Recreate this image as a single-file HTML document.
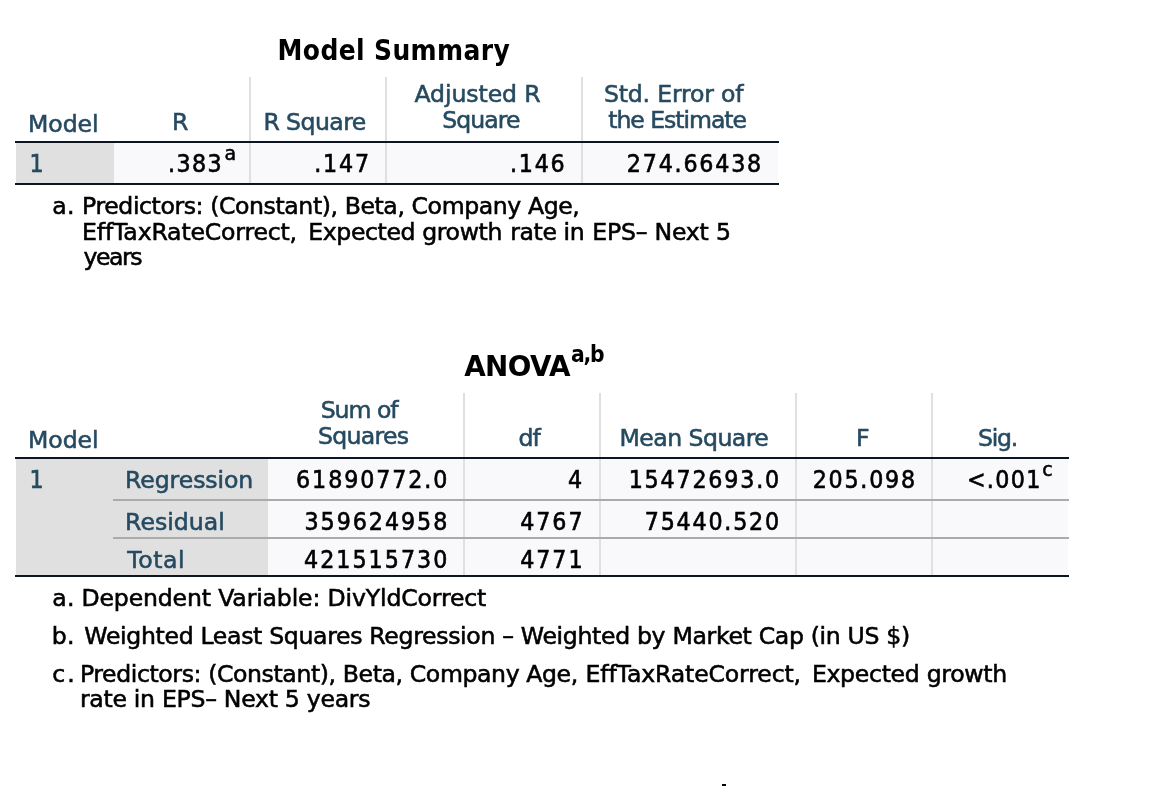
<!DOCTYPE html>
<html lang="en">
<head>
<meta charset="utf-8">
<title>SPSS Output</title>
<style>
html,body{margin:0;padding:0;background:#fff;}
body{width:1162px;height:786px;position:relative;overflow:hidden;font-family:"DejaVu Sans","Liberation Sans",sans-serif;}
.t{position:absolute;white-space:nowrap;line-height:30px;font-size:23.6px;color:#000;font-weight:400;-webkit-text-stroke:0.55px currentColor;}
.r{font-family:"DejaVu Sans","Liberation Sans",sans-serif;}
.c{font-family:"DejaVu Sans Condensed","DejaVu Sans","Liberation Sans",sans-serif;font-stretch:condensed;-webkit-text-stroke-width:0.6px;}
.b{font-weight:700;-webkit-text-stroke:0;}
.ln{left:0;width:1162px;height:30px;}
.ln span{position:absolute;top:0;white-space:pre;}
.bl{color:#264a60;}
.box{position:absolute;}
.dark{background:#0b1622;}
.lab{background:#e0e0e0;}
.dat{background:#f9f9fb;}
.vl{background:#e0e0e0;width:2px;}
.hl{background:#ababab;height:2px;}
</style>
</head>
<body>
<!-- Model Summary table -->
<div class="box lab" style="left:16px;top:143px;width:98px;height:40px"></div>
<div class="box dat" style="left:114px;top:143px;width:664px;height:40px"></div>
<div class="box vl" style="left:249px;top:77px;height:106px"></div>
<div class="box vl" style="left:385px;top:77px;height:106px"></div>
<div class="box vl" style="left:581px;top:77px;height:106px"></div>
<div class="box dark" style="left:15px;top:141px;width:764px;height:2px"></div>
<div class="box dark" style="left:15px;top:183px;width:764px;height:2px"></div>
<!-- ANOVA table -->
<div class="box lab" style="left:16px;top:459px;width:252px;height:116px"></div>
<div class="box dat" style="left:268px;top:459px;width:800px;height:116px"></div>
<div class="box vl" style="left:463px;top:393px;height:182px"></div>
<div class="box vl" style="left:599px;top:393px;height:182px"></div>
<div class="box vl" style="left:795px;top:393px;height:182px"></div>
<div class="box vl" style="left:931px;top:393px;height:182px"></div>
<div class="box hl" style="left:113px;top:499px;width:956px"></div>
<div class="box hl" style="left:113px;top:537px;width:956px"></div>
<div class="box dark" style="left:15px;top:457px;width:1054px;height:2px"></div>
<div class="box dark" style="left:15px;top:575px;width:1054px;height:2px"></div>
<div class="box" style="left:722px;top:784px;width:3.5px;height:2px;background:#000"></div>
<section aria-label="Model Summary">
<div class="t c b" style="left:277.6px;top:36px;font-size:27.8px;letter-spacing:0.37px">Model Summary</div>
<div class="t r bl" style="left:28.07px;top:108.5px;letter-spacing:-0.083px">Model</div>
<div class="t r bl" style="left:172.08px;top:107px">R</div>
<div class="t r bl" style="left:263.38px;top:106.5px;letter-spacing:-0.584px">R Square</div>
<div class="t r bl" style="left:414.47px;top:78.5px;letter-spacing:-0.099px">Adjusted R</div>
<div class="t r bl" style="left:442.27px;top:104.5px;letter-spacing:-0.959px">Square</div>
<div class="t r bl" style="left:603.98px;top:78.5px;letter-spacing:-0.191px">Std. Error of</div>
<div class="t r bl" style="left:608.27px;top:104.5px;letter-spacing:-1.061px">the Estimate</div>
<div class="t c bl" style="left:29.6px;top:149px;font-size:24.7px">1</div>
<div class="t c" style="left:167.9px;top:149px;font-size:24.7px;letter-spacing:1.464px">.383</div>
<div class="t r" style="left:224.38px;top:138px;font-size:19px">a</div>
<div class="t c" style="left:314.2px;top:149px;font-size:24.7px;letter-spacing:1.798px">.147</div>
<div class="t c" style="left:510.0px;top:149px;font-size:24.7px;letter-spacing:1.731px">.146</div>
<div class="t c" style="left:626.8px;top:149px;font-size:24.7px;letter-spacing:1.794px">274.66438</div>
<div class="t r" style="left:52.27px;top:190.7px;letter-spacing:0.392px">a.</div>
<div class="t r ln" style="top:190.7px"><span style="left:82.08px;letter-spacing:-0.418px">Predictors: (Constant), Beta, Company Age,</span></div>
<div class="t r ln" style="top:216.5px"><span style="left:82.08px;letter-spacing:-0.185px">EffTaxRateCorrect, </span><span style="left:308.27px;letter-spacing:-0.398px">Expected growth </span><span style="left:510.27px;letter-spacing:-0.422px">rate in </span><span style="left:592.27px;letter-spacing:-0.222px">EPS– Next 5</span></div>
<div class="t r" style="left:83.58px;top:242.2px;letter-spacing:-1.497px">years</div>
</section>
<section aria-label="ANOVA">
<div class="t r b" style="left:464.2px;top:352px;font-size:27.8px;letter-spacing:-0.646px">ANOVA</div>
<div class="t c b" style="left:571.0px;top:338.5px;font-size:22.6px;letter-spacing:-1.218px">a,b</div>
<div class="t r bl" style="left:28.07px;top:424.5px;letter-spacing:-0.083px">Model</div>
<div class="t r bl" style="left:320.67px;top:394.6px;letter-spacing:-1.04px">Sum of</div>
<div class="t r bl" style="left:317.97px;top:420.6px;letter-spacing:-0.719px">Squares</div>
<div class="t r bl" style="left:518.38px;top:422.5px;letter-spacing:-0.827px">df</div>
<div class="t r bl" style="left:619.57px;top:422.5px;letter-spacing:-0.558px">Mean Square</div>
<div class="t r bl" style="left:855.98px;top:422.5px">F</div>
<div class="t r bl" style="left:977.98px;top:422.5px;letter-spacing:-1.253px">Sig.</div>
<div class="t c bl" style="left:29.6px;top:465px;font-size:24.7px">1</div>
<div class="t r bl" style="left:125.08px;top:465px;letter-spacing:-0.094px">Regression</div>
<div class="t r bl" style="left:125.08px;top:506.7px;letter-spacing:0.024px">Residual</div>
<div class="t r bl" style="left:127.18px;top:544.7px;letter-spacing:0.601px">Total</div>
<div class="t c" style="left:296.1px;top:465px;font-size:24.7px;letter-spacing:1.892px">61890772.0</div>
<div class="t c" style="left:304.5px;top:507px;font-size:24.7px;letter-spacing:1.96px">359624958</div>
<div class="t c" style="left:304.0px;top:545px;font-size:24.7px;letter-spacing:2.022px">421515730</div>
<div class="t c" style="left:567.9px;top:465px;font-size:24.7px">4</div>
<div class="t c" style="left:520.2px;top:507px;font-size:24.7px;letter-spacing:1.939px">4767</div>
<div class="t c" style="left:520.2px;top:545px;font-size:24.7px;letter-spacing:1.939px">4771</div>
<div class="t c" style="left:628.7px;top:465px;font-size:24.7px;letter-spacing:1.803px">15472693.0</div>
<div class="t c" style="left:644.8px;top:507px;font-size:24.7px;letter-spacing:1.782px">75440.520</div>
<div class="t c" style="left:812.7px;top:465px;font-size:24.7px;letter-spacing:1.768px">205.098</div>
<div class="t c" style="left:966.9px;top:465px;font-size:24.7px;letter-spacing:1.345px">&lt;.001</div>
<div class="t r" style="left:1042.18px;top:454px;font-size:19px">c</div>
<div class="t r" style="left:52.27px;top:582.5px;letter-spacing:0.392px">a.</div>
<div class="t r ln" style="top:582.5px"><span style="left:81.48px;letter-spacing:-0.161px">Dependent Variable: DivYldCorrect</span></div>
<div class="t r" style="left:51.67px;top:620.5px;letter-spacing:0.473px">b.</div>
<div class="t r ln" style="top:620.5px"><span style="left:84.28px;letter-spacing:-0.336px">Weighted Least Squares Regression – Weighted by Market Cap (in US $)</span></div>
<div class="t r" style="left:52.27px;top:658.5px;letter-spacing:2.078px">c.</div>
<div class="t r ln" style="top:658.5px"><span style="left:79.88px;letter-spacing:-0.404px">Predictors: (Constant), Beta, Company Age, </span><span style="left:585.48px;letter-spacing:-0.15px">EffTaxRateCorrect, </span><span style="left:811.88px;letter-spacing:-0.312px">Expected growth</span></div>
<div class="t r ln" style="top:684.2px"><span style="left:79.88px;letter-spacing:-0.296px">rate in EPS– Next 5 years</span></div>
</section>
</body>
</html>
